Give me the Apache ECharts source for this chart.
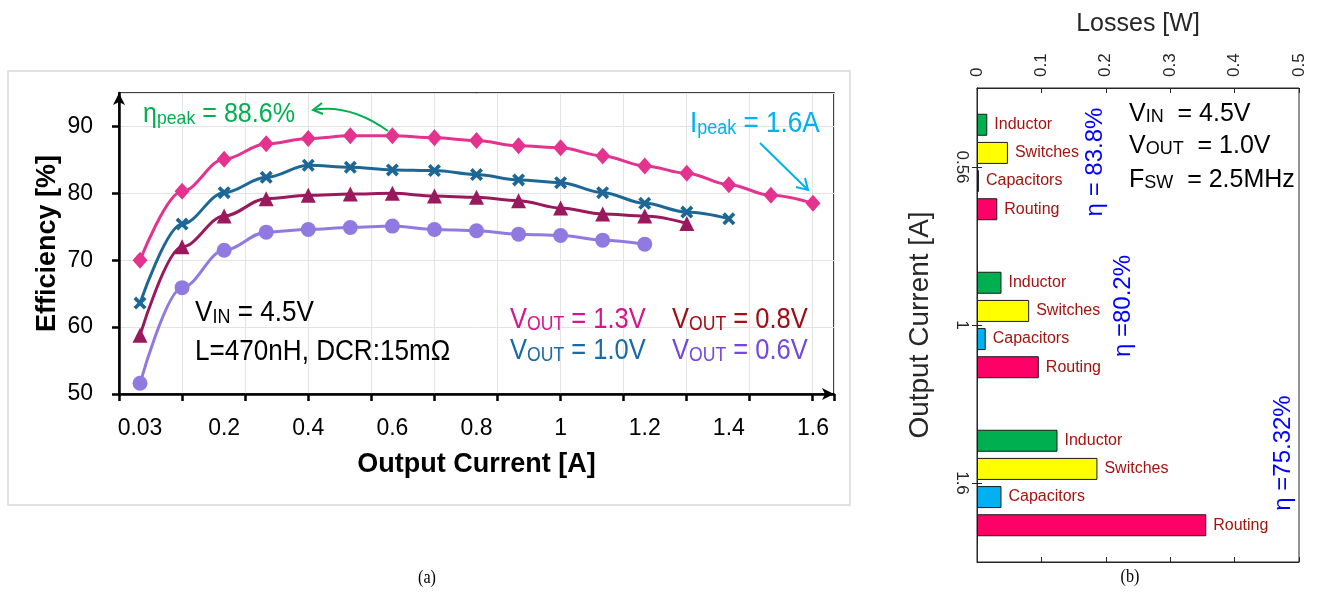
<!DOCTYPE html>
<html>
<head>
<meta charset="utf-8">
<script src="https://cdn.jsdelivr.net/npm/echarts@6/dist/echarts.min.js"></script>
<style>
  html, body { margin: 0; padding: 0; background: #fff; }
  #main { width: 1324px; height: 593px; }
</style>
</head>
<body>
<div id="main"></div>
<script>
// (a) efficiency vs output current
const currents = ['0.03', '0.1', '0.2', '0.3', '0.4', '0.5', '0.6', '0.7', '0.8',
  '0.9', '1', '1.1', '1.2', '1.3', '1.4', '1.5', '1.6'];
const eff13 = [70.0, 80.3, 85.1, 87.4, 88.2, 88.6, 88.6, 88.3, 87.9, 87.1, 86.8, 85.6, 84.1, 83.0, 81.3, 79.7, 78.5];
const eff10 = [63.6, 75.4, 80.1, 82.4, 84.2, 83.9, 83.5, 83.4, 82.8, 82.0, 81.6, 80.1, 78.5, 77.2, 76.2];
const eff08 = [58.8, 72.0, 76.6, 79.2, 79.7, 79.9, 80.0, 79.6, 79.4, 78.9, 77.8, 76.9, 76.6, 75.5];
const eff06 = [51.6, 65.9, 71.5, 74.2, 74.6, 74.9, 75.1, 74.6, 74.4, 73.9, 73.7, 73.0, 72.4];

// (b) loss breakdown at three load currents
const loadCurrents = ['0.56', '1', '1.6'];
const inductorLoss = [0.016, 0.038, 0.125];
const switchLoss = [0.048, 0.081, 0.187];
const capacitorLoss = [0.003, 0.0135, 0.038];
const routingLoss = [0.0315, 0.096, 0.356];
const etaLabels = ['η = 83.8%', 'η =80.2%', 'η =75.32%'];

const SANS = "'Liberation Sans', Arial, sans-serif";

const chart = echarts.init(document.getElementById('main'));

const crossPath = 'path://M2,0 L5,3 L8,0 L10,2 L7,5 L10,8 L8,10 L5,7 L2,10 L0,8 L3,5 L0,2 Z';

function lineSeries(name, data, color, symbol, size) {
  return {
    name, type: 'line', data,
    xAxisIndex: 0, yAxisIndex: 0,
    smooth: 0.35, smoothMonotone: 'x',
    symbol, symbolSize: size,
    lineStyle: { color, width: 3 },
    itemStyle: { color },
    z: 3
  };
}

function barSeries(name, data, color) {
  return {
    name, type: 'bar', data,
    xAxisIndex: 2, yAxisIndex: 1,
    barWidth: 22, barGap: '28%',
    itemStyle: { color, borderColor: '#1a1a1a', borderWidth: 1 },
    label: {
      show: true, position: 'right', distance: 7,
      formatter: name, color: '#A3140F', fontSize: 16, fontFamily: SANS
    }
  };
}

// rich text with subscripts; sx squeezes the text horizontally
function richLabel(x, y, text, color, size, subSize, subLH, sx) {
  return {
    type: 'text', x, y, z: 10, scaleX: sx || 1,
    style: {
      text,
      align: 'left', verticalAlign: 'middle',
      rich: {
        m: { fontSize: size, lineHeight: size + 6, verticalAlign: 'bottom', fill: color, fontFamily: SANS },
        s: { fontSize: subSize, lineHeight: subLH, verticalAlign: 'bottom', fill: color, fontFamily: SANS }
      }
    }
  };
}

const graphics = [
  // outer frame of (a)
  { type: 'rect', shape: { x: 8, y: 71, width: 842, height: 434 }, style: { fill: 'none', stroke: '#d9d9d9', lineWidth: 1.5 }, z: 0 },
  richLabel(143, 112, '{m|η}{s|peak}{m| = 88.6%}', '#00B050', 27, 19, 13, 0.93),
  richLabel(690, 121, '{m|I}{s|peak}{m| = 1.6A}', '#00B0F0', 29, 20, 13, 0.9),
  richLabel(195, 310, '{m|V}{s|IN}{m| = 4.5V}', '#000', 29, 20, 15, 0.9),
  richLabel(195, 349, '{m|L=470nH, DCR:15mΩ}', '#000', 29, 20, 15, 0.9),
  richLabel(510, 317, '{m|V}{s|OUT}{m| = 1.3V}', '#D5168C', 29, 20, 24, 0.88),
  richLabel(510, 348, '{m|V}{s|OUT}{m| = 1.0V}', '#186BA6', 29, 20, 24, 0.88),
  richLabel(672, 317, '{m|V}{s|OUT}{m| = 0.8V}', '#A00F16', 29, 20, 24, 0.88),
  richLabel(672, 348, '{m|V}{s|OUT}{m| = 0.6V}', '#7447E0', 29, 20, 24, 0.88),
  // green curved arrow towards the peak label
  { type: 'bezierCurve', shape: { x1: 388, y1: 131, x2: 313, y2: 110, cpx1: 349.5, cpy1: 103.5 },
    style: { stroke: '#00B050', lineWidth: 2, fill: 'none' }, z: 10 },
  { type: 'polyline', shape: { points: [[322, 103], [313, 110], [323, 114]] },
    style: { stroke: '#00B050', lineWidth: 2, fill: 'none' }, z: 10 },
  // blue arrow towards 1.6 A point
  { type: 'line', shape: { x1: 760, y1: 143, x2: 808, y2: 190 }, style: { stroke: '#00B0F0', lineWidth: 2 }, z: 10 },
  { type: 'polyline', shape: { points: [[805, 178], [808, 190], [796, 187]] },
    style: { stroke: '#00B0F0', lineWidth: 2, fill: 'none' }, z: 10 },
  // (b) annotation block
  richLabel(1129, 111, '{m|V}{s|IN}{m|  = 4.5V}', '#000', 25, 18, 14),
  richLabel(1129, 143, '{m|V}{s|OUT}{m|  = 1.0V}', '#000', 25, 18, 14),
  richLabel(1129, 177, '{m|F}{s|SW}{m|  = 2.5MHz}', '#000', 25, 18, 14),
  // captions
  { type: 'text', x: 427, y: 578, scaleX: 0.85, style: { text: '(a)', fontSize: 19, fontFamily: "'Liberation Serif', serif", fill: '#000', align: 'center', verticalAlign: 'middle' } },
  { type: 'text', x: 1130, y: 577, scaleX: 0.85, style: { text: '(b)', fontSize: 19, fontFamily: "'Liberation Serif', serif", fill: '#000', align: 'center', verticalAlign: 'middle' } }
];

// efficiency labels of (b), rotated
const etaPos = [[1095, 162], [1123, 306], [1283, 453]];
etaLabels.forEach((t, i) => {
  graphics.push({
    type: 'text', x: etaPos[i][0], y: etaPos[i][1], rotation: Math.PI / 2, z: 10,
    style: { text: t, fontSize: 24, fontFamily: SANS, fill: '#0000FF', align: 'center', verticalAlign: 'middle' }
  });
});

const option = {
  animation: false,
  backgroundColor: '#fff',
  grid: [
    { left: 119, top: 93, width: 715, height: 301, show: true, borderColor: '#000', borderWidth: 1.5 },
    { left: 977, top: 88, width: 322, height: 474, show: true, borderColor: '#262626', borderWidth: 1 }
  ],
  xAxis: [
    {
      type: 'category', gridIndex: 0, data: currents, boundaryGap: true,
      axisLine: { lineStyle: { color: '#000', width: 2.5 }, symbol: ['none', 'arrow'], symbolSize: [9, 12] },
      axisTick: { show: false },
      axisLabel: { interval: 1, margin: 23, fontSize: 23, color: '#000', fontFamily: SANS },
      splitLine: { show: false },
      name: 'Output Current [A]', nameLocation: 'middle', nameGap: 57, nameMoveOverlap: false,
      nameTextStyle: { fontSize: 27, fontWeight: 'bold', color: '#000', fontFamily: SANS },
      z: 5
    },
    {
      type: 'value', gridIndex: 0, position: 'bottom', min: 0, max: 11.35, interval: 1,
      axisLine: { show: false },
      axisTick: { show: true, length: 7, lineStyle: { color: '#000', width: 2.5 } },
      axisLabel: { show: false },
      splitLine: { show: true, lineStyle: { color: '#e3e3e3', width: 1 } }
    },
    {
      type: 'value', gridIndex: 1, position: 'top', min: 0, max: 0.5, interval: 0.1,
      axisLine: { show: true, lineStyle: { color: '#262626', width: 1 } },
      axisTick: { show: true, inside: true, length: 5, lineStyle: { color: '#262626' } },
      axisLabel: { rotate: -90, margin: 11, fontSize: 17, color: '#262626', fontFamily: SANS },
      splitLine: { show: false },
      name: 'Losses [W]', nameLocation: 'middle', nameGap: 51, nameMoveOverlap: false,
      nameTextStyle: { fontSize: 25, color: '#262626', fontFamily: SANS }
    },
    {
      type: 'value', gridIndex: 1, position: 'bottom', min: 0, max: 0.5, interval: 0.1,
      axisLine: { show: true, lineStyle: { color: '#262626', width: 1 } },
      axisTick: { show: true, inside: true, length: 5, lineStyle: { color: '#262626' } },
      axisLabel: { show: false },
      splitLine: { show: false }
    }
  ],
  yAxis: [
    {
      type: 'value', gridIndex: 0, min: 50, max: 95, interval: 10,
      axisLine: { show: true, lineStyle: { color: '#000', width: 2.5 }, symbol: ['none', 'arrow'], symbolSize: [9, 12] },
      axisTick: { show: true, length: 7, lineStyle: { color: '#000', width: 2.5 } },
      axisLabel: { margin: 26, fontSize: 23, color: '#000', fontFamily: SANS, showMaxLabel: false },
      splitLine: { lineStyle: { color: '#e3e3e3', width: 1 } },
      name: 'Efficiency [%]', nameLocation: 'middle', nameRotate: 90, nameGap: 58, nameMoveOverlap: false,
      nameTextStyle: { fontSize: 27, fontWeight: 'bold', color: '#000', fontFamily: SANS }
    },
    {
      type: 'category', gridIndex: 1, data: loadCurrents, inverse: true,
      axisLine: { show: true, lineStyle: { color: '#262626', width: 1 } },
      axisTick: { show: true, inside: true, alignWithLabel: true, length: 5, lineStyle: { color: '#262626' } },
      axisLabel: { rotate: -90, margin: 7, fontSize: 17, color: '#262626', fontFamily: SANS },
      name: 'Output Current [A]', nameLocation: 'middle', nameRotate: 90, nameGap: 43, nameMoveOverlap: false,
      nameTextStyle: { fontSize: 28, color: '#262626', fontFamily: SANS }
    },
    {
      type: 'category', gridIndex: 1, data: loadCurrents, inverse: true, position: 'right',
      axisLine: { show: true, lineStyle: { color: '#262626', width: 1 } },
      axisTick: { show: true, inside: true, alignWithLabel: true, length: 5, lineStyle: { color: '#262626' } },
      axisLabel: { show: false }
    }
  ],
  series: [
    lineSeries('0.6V', eff06, '#9179E2', 'circle', 15),
    lineSeries('0.8V', eff08, '#99195C', 'triangle', 15),
    lineSeries('1.0V', eff10, '#1D6796', crossPath, 13),
    lineSeries('1.3V', eff13, '#E4338F', 'diamond', [15, 17]),
    barSeries('Inductor', inductorLoss, '#00B050'),
    barSeries('Switches', switchLoss, '#FFFF00'),
    barSeries('Capacitors', capacitorLoss, '#00B0F0'),
    barSeries('Routing', routingLoss, '#FF0066')
  ],
  graphic: { elements: graphics }
};

chart.setOption(option);
</script>
</body>
</html>
